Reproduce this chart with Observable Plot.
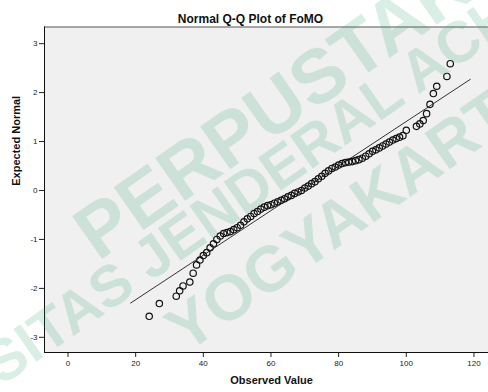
<!DOCTYPE html>
<html>
<head>
<meta charset="utf-8">
<script src="https://cdn.jsdelivr.net/npm/d3@7"></script>
<script src="https://cdn.jsdelivr.net/npm/@observablehq/plot@0.6"></script>
<style>
  html, body { margin: 0; padding: 0; background: #ffffff; }
  #wrap { position: relative; width: 488px; height: 392px; overflow: hidden; }
  #wm { position: absolute; left: 0; top: 0; pointer-events: none; }
</style>
</head>
<body>
<div id="wrap"></div>
<script>
// Observed values (distinct) and their expected normal quantiles
const observed = [24, 27, 32, 33, 34, 36, 37, 38, 39, 40, 41, 42, 43, 44, 45, 46, 47, 48, 49, 50,
  51, 52, 53, 54, 55, 56, 57, 58, 59, 60, 61, 62, 63, 64, 65, 66, 67, 68, 69, 70,
  71, 72, 73, 74, 75, 76, 77, 78, 79, 80, 81, 82, 83, 84, 85, 86, 87, 88, 89, 90,
  91, 92, 93, 94, 95, 96, 97, 98, 99, 100, 103, 104, 105, 106, 107, 108, 109, 112, 113];
const expected = [-2.57, -2.31, -2.16, -2.05, -1.95, -1.87, -1.69, -1.52, -1.42, -1.33, -1.27, -1.17, -1.09, -1.00, -0.93, -0.88, -0.86, -0.84, -0.80, -0.76,
  -0.71, -0.64, -0.58, -0.53, -0.47, -0.43, -0.38, -0.34, -0.31, -0.29, -0.26, -0.23, -0.20, -0.17, -0.13, -0.10, -0.06, -0.03, 0.00, 0.05,
  0.09, 0.14, 0.18, 0.24, 0.29, 0.35, 0.40, 0.45, 0.48, 0.52, 0.55, 0.57, 0.58, 0.59, 0.61, 0.63, 0.66, 0.70, 0.75, 0.80,
  0.83, 0.87, 0.91, 0.95, 0.99, 1.03, 1.06, 1.09, 1.12, 1.23, 1.31, 1.36, 1.43, 1.57, 1.76, 1.98, 2.13, 2.33, 2.59];

// Reference line end points
const lineX = [18.5, 118.9];
const lineY = [-2.30, 2.27];

const xTicks = [0, 20, 40, 60, 80, 100, 120];
const yTicks = [-3, -2, -1, 0, 1, 2, 3];

const titleText = "Normal Q-Q Plot of FoMO";
const xLabel = "Observed Value";
const yLabel = "Expected Normal";
const watermark = ["PERPUSTAKAAN", "UNIVERSITAS JENDERAL ACHMAD YANI", "YOGYAKARTA"];

const points = observed.map((v, i) => ({x: v, y: expected[i]}));
const refLine = lineX.map((v, i) => ({x: v, y: lineY[i]}));

const xDom = [-6.95, 124.3];
const yDom = [-3.31, 3.34];

const chart = Plot.plot({
  width: 488,
  height: 392,
  marginLeft: 44,
  marginRight: 0,
  marginTop: 26.5,
  marginBottom: 40,
  style: {fontFamily: "Arial, 'Liberation Sans', sans-serif", fontSize: "8px", color: "#222", background: "#ffffff"},
  x: {domain: xDom, ticks: xTicks, tickSize: 5, tickPadding: 3, label: null, tickFormat: d => String(d)},
  y: {domain: yDom, ticks: yTicks, tickSize: 5, tickPadding: 2, label: null, tickFormat: d => String(d)},
  marks: [
    Plot.frame({fill: "#f0f0f0", stroke: null}),
    Plot.ruleY([yDom[1]], {stroke: "#555", strokeWidth: 1}),
    Plot.ruleX([xDom[0]], {stroke: "#111", strokeWidth: 1}),
    Plot.ruleY([yDom[0]], {stroke: "#111", strokeWidth: 1}),
    Plot.line(refLine, {x: "x", y: "y", stroke: "#333", strokeWidth: 1}),
    Plot.dot(points, {x: "x", y: "y", r: 3.2, stroke: "#111", strokeWidth: 1.2, fill: "none"}),
    Plot.text([titleText], {frameAnchor: "top", dx: -16, dy: -13, fontSize: 12, fontWeight: "bold", fill: "#111"}),
    Plot.text([xLabel], {frameAnchor: "bottom", dx: 5, dy: 31, fontSize: 11, fontWeight: "bold", fill: "#111"}),
    Plot.text([yLabel], {frameAnchor: "left", dx: -28, dy: -4, rotate: -90, fontSize: 11, fontWeight: "bold", fill: "#111"})
  ]
});
document.getElementById("wrap").appendChild(chart);

// Watermark overlay
const svg = d3.select("#wrap").append("svg").attr("id", "wm").attr("width", 488).attr("height", 392);
const wmPos = [[98, 262], [-178, 512], [186, 354]];
const wmSize = [76, 58, 64];
svg.selectAll("text").data(watermark).join("text")
  .attr("transform", (d, i) => `translate(${wmPos[i][0]},${wmPos[i][1]}) rotate(-35)`)
  .attr("font-family", "Arial, 'Liberation Sans', sans-serif")
  .attr("font-weight", "bold")
  .attr("font-size", (d, i) => wmSize[i])
  .attr("fill", "#2e9e6a")
  .attr("fill-opacity", 0.18)
  .text(d => d);
</script>
</body>
</html>
